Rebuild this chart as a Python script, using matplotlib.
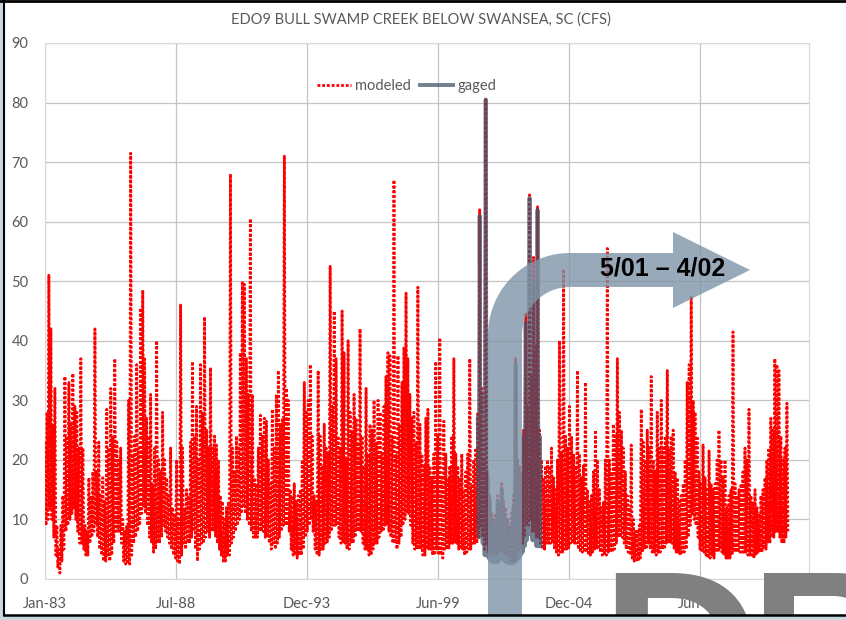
import numpy as np
import pandas as pd
import matplotlib
matplotlib.use("Agg")
import matplotlib.pyplot as plt
import matplotlib.dates as mdates
from matplotlib.patches import Polygon, Rectangle
from matplotlib.lines import Line2D

plt.rcParams['font.family'] = ['Lato', 'DejaVu Sans']

# monthly high / low flow (cfs), Jan-1983 .. Jan-2014
modeled_peak = [
    23, 28, 51, 42, 26, 32, 9, 5, 9, 14, 34, 24,            # 1983
    33, 26, 34.5, 29, 28, 22, 37, 22, 9, 8, 17, 14,         # 1984
    18, 42, 18, 23, 14, 17, 13, 28.5, 22, 32, 24, 37,       # 1985
    23, 20, 22, 10, 8, 9, 30, 71.5, 21, 24, 36, 22,         # 1986
    45.5, 48.5, 37, 27, 24, 31, 16, 22, 40, 20, 18, 28,     # 1987
    20, 17, 14, 22, 12, 11, 20, 10, 46, 22, 12, 15,         # 1988
    14, 23, 36.5, 24, 29, 20, 36, 28, 44, 25, 22, 35.5,     # 1989
    22, 24, 22.5, 20, 14, 13, 10, 12, 13, 68, 22, 18,       # 1990
    24, 22, 38, 50, 49.5, 37, 31, 60.5, 31, 17, 16, 22,     # 1991
    27.5, 24, 27, 26.5, 20, 16, 28.5, 22, 31, 35, 26, 27,   # 1992
    71, 32, 30, 15, 14, 16, 13, 14, 15, 20, 33, 28,         # 1993
    30, 36, 24, 14, 13, 35, 24, 19, 26, 22, 21, 52.5,       # 1994
    29, 45, 37, 24, 22, 45, 38, 20, 40, 28, 25, 31,         # 1995
    27, 23, 42, 24, 19, 32, 21, 26, 25, 30, 23, 30,         # 1996
    28, 21, 29, 34, 38, 37.5, 24, 67, 21, 37.5, 26, 33,     # 1997
    39, 48, 37, 31, 27, 28, 23, 49, 26, 21, 19, 27,         # 1998
    28.5, 19, 17, 21, 36.5, 24, 40.5, 17, 26.5, 21, 17, 19, # 1999
    24, 37, 21, 19, 17, 21, 15, 18, 21, 37, 15.5, 20,       # 2000
    22, 28, 62, 32, 20, 80.5, 18, 14, 11, 10, 11, 14,       # 2001
    13, 16, 13, 12, 10, 9, 11, 14, 37, 20, 19, 18,          # 2002
    25, 44.5, 29, 64.5, 34, 54, 39, 62.5, 25, 20, 17, 19,   # 2003
    20, 19, 22, 17, 15, 20, 40, 21, 52, 24, 22, 29,         # 2004
    24, 21, 19, 35, 21, 17, 19, 33, 15, 13, 14, 18,         # 2005
    25, 20, 15, 12, 13, 20, 55.5, 20, 18, 26, 24, 37,       # 2006
    28, 25, 22, 18, 14, 12, 22.5, 10, 8, 8, 9, 28.5,        # 2007
    23, 20, 25, 22, 34, 20, 18, 28, 22, 30, 22, 24,         # 2008
    35, 22, 24, 25, 18, 17, 13, 14, 16, 20, 33, 36,         # 2009
    47.5, 30, 28, 24, 18, 16, 22.5, 17, 15, 21.5, 16, 15,   # 2010
    16, 20, 25, 20, 17, 20, 12, 14, 15, 41.5, 16, 14,       # 2011
    15, 16, 18, 22, 20, 28.5, 14, 13, 15, 12, 11, 14,       # 2012
    15, 17, 20, 22, 27, 25, 37, 36, 35, 24, 20, 22,         # 2013
    29.5,                                                   # 2014
]
modeled_low = [
    9, 10, 12, 10, 7, 4, 2, 1, 3, 5, 8, 9,
    10, 11, 12, 10, 8, 6, 6, 5, 4, 4, 6, 7,
    8, 9, 7, 5, 4, 3, 3, 4, 3, 4, 6, 8,
    8, 8, 6, 3, 2.5, 2.5, 2.5, 4, 6, 7, 8, 9,
    11, 12, 11, 9, 7, 6, 4.5, 5, 6, 6, 7, 9,
    8, 7, 6, 5, 4, 3.5, 3, 2.5, 4, 6, 5, 6,
    6, 7, 8, 5, 3, 5, 6, 6, 7, 8, 7, 8,
    8, 7, 6, 5, 4, 3, 3, 4, 4, 6, 7, 8,
    9, 10, 11, 12, 11, 10, 9, 8, 7, 7, 7, 8,
    8, 8, 7, 7, 6, 5, 6, 5, 6, 7, 8, 9,
    9, 9, 8, 5, 4, 4, 3.5, 4, 4, 5, 7, 8,
    9, 10, 8, 5, 4, 4, 5, 5, 6, 6, 7, 8,
    9, 9, 9, 7, 6, 6, 6, 5, 5, 6, 6, 7,
    8, 8, 8, 6, 5, 5, 4, 4, 5, 6, 6, 7,
    8, 8, 9, 9, 8, 7, 6, 6, 5, 6, 7, 9,
    10, 11, 11, 9, 6, 5, 5, 5, 5, 4, 4, 5,
    5, 5, 4, 4, 5, 4, 4, 3.5, 5, 5, 5, 6,
    6, 6, 6, 5, 5, 5, 4, 4.5, 5, 5, 6, 6,
    6, 7, 9, 7, 5, 6, 4.5, 4, 4, 4, 4, 4.5,
    4.5, 4.5, 4, 4, 3.5, 3, 3, 3, 3.5, 4.5, 5, 6,
    7, 9, 9, 10, 8, 8, 7, 7, 6, 5, 5, 6,
    6, 6, 6, 5, 4.5, 4, 4.5, 4.5, 5, 5, 5, 6,
    6, 6, 6, 5, 4.5, 4.5, 4.5, 4.5, 4, 4, 4.5, 5,
    5, 5, 4.5, 4, 4, 4, 4.5, 4.5, 4.5, 5, 6, 7,
    7, 7, 6, 5, 4.5, 4, 3.5, 3, 2.9, 3, 3.5, 4.5,
    5, 5, 6, 5, 4.5, 4.5, 4, 4.5, 4.5, 5, 5, 6,
    6, 6, 6, 5, 4.5, 4.5, 4, 4.5, 4.5, 5, 7, 9,
    11, 10, 9, 7, 5, 4.5, 4.5, 4, 3.5, 3.5, 4, 3.5,
    4.5, 4.5, 5, 4.5, 4, 3.5, 3.5, 3.5, 4, 4.5, 4.5, 4.5,
    4.5, 4.5, 4.5, 4.5, 4, 4, 4, 3.5, 4, 4.5, 4.5, 4.5,
    5, 5, 6, 6, 7, 7, 8, 8, 7, 6, 6, 7,
    8,
]

# gaged record, Feb-2001 .. Sep-2003
gaged_peak = [27, 61, 31, 19, 80.5, 17, 13, 10, 8, 9, 13,
              11, 15, 11, 10, 8.5, 7.5, 9, 12, 36, 19, 17, 16,
              24, 43, 27, 64, 32, 50, 37, 62, 24]
gaged_low = [7, 8, 6, 4, 4, 3.5, 3, 2.8, 2.8, 2.8, 3,
             3.5, 3.5, 3, 2.8, 2.7, 2.6, 2.6, 2.8, 3, 3.5, 4, 4.5,
             5.5, 6.5, 7.5, 7.5, 6.5, 6.5, 5.5, 5.5, 5.5]

W, H = 846, 620


def zigzag(start, peaks, lows):
    months = pd.date_range(start, periods=len(peaks), freq=pd.DateOffset(months=1))
    x = np.empty(2 * len(peaks), dtype='datetime64[ns]')
    x[0::2] = months.values
    x[1::2] = (months + pd.Timedelta(days=15)).values
    y = np.empty(2 * len(peaks))
    y[0::2] = peaks
    y[1::2] = lows
    return x, y


def fig_xy(px, py):
    return px / W, 1 - py / H


xm, ym = zigzag('1983-01-15', modeled_peak, modeled_low)
xg, yg = zigzag('2001-02-15', gaged_peak, gaged_low)

fig = plt.figure(figsize=(W / 100, H / 100), dpi=100)
ax = fig.add_axes([45 / W, 1 - 579 / H, (809 - 45) / W, (579 - 43) / H])

red_style = dict(color='#ff0000', lw=2.0, ls=(0, (1, 0.7)))
gage_style = dict(color='#44546a', lw=2.8, alpha=0.75)
ax.plot(xm, ym, zorder=3, **red_style)
ax.plot(xg, yg, zorder=4, **gage_style)

start = pd.Timestamp('1983-01-15')
ticks = [start + pd.Timedelta(days=2000 * k) for k in range(6)]
ax.set_xlim(start, start + pd.Timedelta(days=11660))
ax.set_xticks(ticks)
ax.xaxis.set_major_formatter(mdates.DateFormatter('%b-%y'))
ax.set_ylim(0, 90)
ax.set_yticks(range(0, 91, 10))
ax.grid(True, color='#c4c4c4', lw=0.9)
ax.set_axisbelow(True)
for s in ax.spines.values():
    s.set_color('#d9d9d9')
ax.tick_params(length=0, labelsize=10.5, colors='#595959')
ax.tick_params(axis='x', pad=13)
ax.tick_params(axis='y', pad=12)

fig.text(421 / W, 1 - 20 / H, 'EDO9 BULL SWAMP CREEK BELOW SWANSEA, SC (CFS)',
         ha='center', va='center', fontsize=10.5, color='#595959')

handles = [Line2D([], [], **red_style), Line2D([], [], **gage_style)]
leg = ax.legend(handles, ['modeled', 'gaged'], ncol=2, frameon=False,
                loc='center', bbox_to_anchor=fig_xy(407, 86),
                bbox_transform=fig.transFigure, fontsize=10.5,
                handlelength=2.3, handletextpad=0.3, columnspacing=0.6)
for t in leg.get_texts():
    t.set_color('#595959')

# bent arrow annotation
cx, cy, r_out, r_in = 570, 335, 82, 48
a = np.linspace(np.pi, np.pi / 2, 30)
outer = [(cx + r_out * np.cos(t), cy - r_out * np.sin(t)) for t in a]
inner = [(cx + r_in * np.cos(t), cy - r_in * np.sin(t)) for t in a[::-1]]
pts = ([(488, 640)] + outer +
       [(673, 253), (673, 232), (750, 270), (673, 308), (673, 287)] +
       inner + [(522, 640)])
arrow = Polygon([fig_xy(px, py) for px, py in pts], closed=True,
                transform=fig.transFigure, facecolor='#7f95a8', alpha=0.8,
                edgecolor='none', zorder=10)
fig.patches.append(arrow)
fig.text(*fig_xy(663, 269), '5/01 \u2013 4/02', ha='center', va='center',
         fontsize=18, fontweight='bold', family='Liberation Sans',
         color='black', zorder=11)

# watermark letters, cut off by the frame
for letter, px, size in [('D', 600, 160), ('R', 750, 150)]:
    fig.text(*fig_xy(px, 565), letter, ha='left', va='top', fontsize=size,
             fontweight='bold', family='Liberation Sans', color='#808080',
             zorder=12)

# slide frame
fig.patches.append(Rectangle((0, 0), 3 / W, 1, transform=fig.transFigure,
                             facecolor='#c9d5df', edgecolor='none', zorder=13))
fig.patches.append(Rectangle((0, 0), 1, 5 / H, transform=fig.transFigure,
                             facecolor='#c9d5df', edgecolor='none', zorder=13))
fig.add_artist(Line2D([3.5 / W, 3.5 / W], [5.5 / H, 1], transform=fig.transFigure,
                      color='black', lw=1.5, zorder=14))
fig.add_artist(Line2D([3.5 / W, 1], [5.5 / H, 5.5 / H], transform=fig.transFigure,
                      color='black', lw=1.8, zorder=14))
fig.add_artist(Line2D([0, 1], [1 - 1 / H, 1 - 1 / H], transform=fig.transFigure,
                      color='black', lw=2, zorder=14))

fig.savefig('out.png', dpi=100)
